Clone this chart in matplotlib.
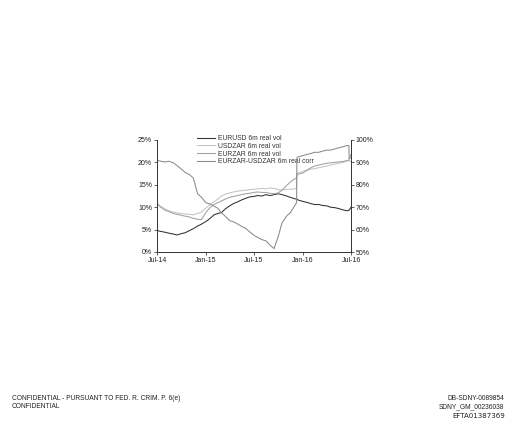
import matplotlib
matplotlib.use("Agg")
import matplotlib.pyplot as plt
import matplotlib.dates as mdates
import pandas as pd
from matplotlib.ticker import FuncFormatter

plt.rcParams['font.family'] = ['Liberation Sans', 'DejaVu Sans']

dates = ["2014-07-01","2014-07-15","2014-08-01","2014-08-15","2014-09-01","2014-09-15",
         "2014-10-01","2014-10-15","2014-11-01","2014-11-15","2014-12-01","2014-12-15",
         "2015-01-01","2015-01-15","2015-02-01","2015-02-15","2015-03-01","2015-03-15",
         "2015-04-01","2015-04-15","2015-05-01","2015-05-15","2015-06-01","2015-06-15",
         "2015-07-01","2015-07-15","2015-08-01","2015-08-15","2015-09-01","2015-09-15",
         "2015-10-01","2015-10-15","2015-11-01","2015-11-15","2015-12-01","2015-12-09",
         "2015-12-10","2015-12-15","2016-01-01","2016-01-15","2016-02-01","2016-02-15",
         "2016-03-01","2016-03-15","2016-04-01","2016-04-15","2016-05-01","2016-05-15",
         "2016-06-01","2016-06-15","2016-06-23","2016-06-24","2016-07-01"]

eurusd_vol = [4.8,4.6,4.4,4.2,4.0,3.8,4.1,4.3,4.8,5.2,5.8,6.2,6.8,7.4,8.3,8.6,8.8,9.6,
              10.3,10.8,11.2,11.6,12.0,12.3,12.4,12.6,12.5,12.8,12.6,12.8,13.0,12.8,12.5,
              12.2,11.9,11.8,11.8,11.6,11.3,11.1,10.8,10.6,10.6,10.4,10.3,10.0,9.9,9.7,
              9.4,9.2,9.3,9.3,10.0]

usdzar_vol = [10.8,10.2,9.6,9.2,8.9,8.7,8.6,8.5,8.4,8.3,8.6,8.9,9.8,10.5,11.2,11.8,12.5,
              12.9,13.2,13.4,13.6,13.7,13.8,13.9,14.0,14.1,14.2,14.1,14.3,14.2,13.9,13.8,
              14.0,14.0,14.1,14.2,17.5,17.6,18.0,18.2,18.5,18.6,18.8,19.0,19.2,19.4,19.6,
              19.8,20.0,20.3,20.5,20.3,20.2]

eurzar_vol = [10.8,10.0,9.3,9.0,8.6,8.4,8.2,8.0,7.8,7.5,7.3,7.2,8.8,9.8,10.6,11.0,11.4,
              11.8,12.2,12.4,12.6,12.8,13.0,13.1,13.3,13.4,13.3,13.3,13.1,13.0,13.2,13.8,
              14.8,15.6,16.3,16.5,17.2,17.4,17.6,18.2,18.8,19.2,19.4,19.6,19.8,19.9,20.0,
              20.1,20.2,20.4,20.5,20.8,21.8]

corr = [91,90.5,90.2,90.5,89.8,88.5,87,85.5,84.5,83,76,74.5,72,71.5,70.5,69.5,67.5,66,
        64,63.5,62.5,61.5,60.5,59,57.5,56.5,55.5,55,53,51.5,57,63,66,67.5,70.5,72,
        92,92.5,93,93.5,94,94.5,94.5,95,95.5,95.5,96,96.5,97,97.5,97.5,92,92]

labels = ["EURUSD 6m real vol", "USDZAR 6m real vol", "EURZAR 6m real vol",
          "EURZAR-USDZAR 6m real corr"]
colors = ["#303030", "#c4c4c4", "#a0a0a0", "#8a8a8a"]

x = pd.to_datetime(dates)

fig = plt.figure(figsize=(5.12, 4.24), dpi=100)
ax = fig.add_axes([157/512, 1-252/424, 194/512, 112/424])
ax2 = ax.twinx()

h1, = ax.plot(x, eurusd_vol, color=colors[0], lw=0.75)
h2, = ax.plot(x, usdzar_vol, color=colors[1], lw=0.75)
h3, = ax.plot(x, eurzar_vol, color=colors[2], lw=0.75)
h4, = ax2.plot(x, corr, color=colors[3], lw=0.75)

ax.set_ylim(0, 25)
ax2.set_ylim(50, 100)
ax.set_yticks(range(0, 26, 5))
ax2.set_yticks(range(50, 101, 10))
ax.yaxis.set_major_formatter(FuncFormatter(lambda v, p: f"{v:.0f}%"))
ax2.yaxis.set_major_formatter(FuncFormatter(lambda v, p: f"{v:.0f}%"))

ax.set_xlim(pd.Timestamp("2014-07-01"), pd.Timestamp("2016-07-01"))
ticks = pd.to_datetime(["2014-07-01", "2015-01-01", "2015-07-01", "2016-01-01", "2016-07-01"])
ax.set_xticks(ticks)
ax.xaxis.set_major_formatter(mdates.DateFormatter("%b-%y"))

for a in (ax, ax2):
    a.spines['top'].set_visible(False)
    for s in a.spines.values():
        s.set_linewidth(0.6)
        s.set_color("#333333")
    a.tick_params(labelsize=5, length=2, width=0.5, direction='out', pad=1.5, colors="#222222")

leg = ax.legend([h1, h2, h3, h4], labels, loc='upper left', bbox_to_anchor=(0.19, 1.075),
                frameon=False, fontsize=4.9, handlelength=2.6, handletextpad=0.4,
                labelspacing=0.12, borderpad=0)
for t in leg.get_texts():
    t.set_color("#333333")

fig.text(12/512, 1-399/424, "CONFIDENTIAL - PURSUANT TO FED. R. CRIM. P. 6(e)", fontsize=4.8,
         va='center', ha='left', color="#222222")
fig.text(12/512, 1-407/424, "CONFIDENTIAL", fontsize=4.8, va='center', ha='left', color="#222222")
fig.text(504/512, 1-399/424, "DB-SDNY-0089854", fontsize=4.8, va='center', ha='right', color="#222222")
fig.text(504/512, 1-407/424, "SDNY_GM_00236038", fontsize=4.8, va='center', ha='right', color="#222222")
fig.text(505/512, 1-416/424, "EFTA01387369", fontsize=5.0, va='center', ha='right', color="#222222",
         family=['DejaVu Sans'])

fig.savefig("out.png", dpi=100)
